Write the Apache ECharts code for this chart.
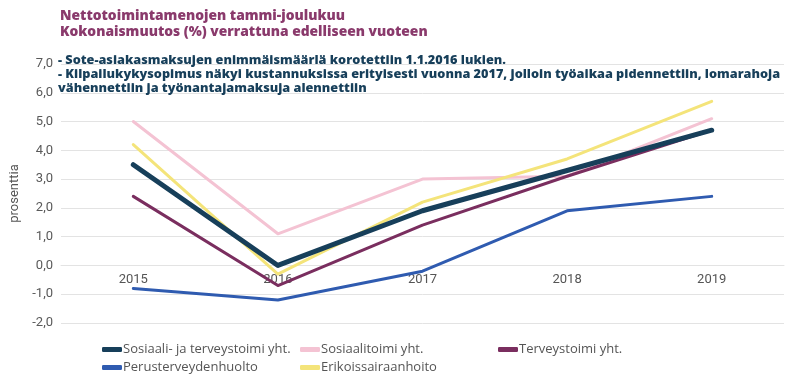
<!DOCTYPE html>
<html><head><meta charset="utf-8">
<script src="https://cdn.jsdelivr.net/npm/echarts@6/dist/echarts.min.js"></script>
<style>html,body{margin:0;padding:0;background:#fff}#c{width:790px;height:381px}</style>
</head><body><div id="c"></div>
<script>
const categories = ['2015','2016','2017','2018','2019'];
const yTicks = [-2,-1,0,1,2,3,4,5,6,7];
const sote = [3.5, 0.0, 1.9, 3.3, 4.7];
const sosiaali = [5.0, 1.1, 3.0, 3.1, 5.1];
const terveys = [2.4, -0.7, 1.4, 3.1, 4.7];
const perus = [-0.8, -1.2, -0.2, 1.9, 2.4];
const erikois = [4.2, -0.3, 2.2, 3.7, 5.7];
const seriesNames = ['Sosiaali- ja terveystoimi yht.','Sosiaalitoimi yht.','Terveystoimi yht.','Perusterveydenhuolto','Erikoissairaanhoito'];
const titleLines = ['Nettotoimintamenojen tammi-joulukuu','Kokonaismuutos (%) verrattuna edelliseen vuoteen'];
const noteLines = ['- Sote-asiakasmaksujen enimmäismäärlä korotettiin 1.1.2016 lukien.','- Kilpailukykysopimus näkyi kustannuksissa erityisesti vuonna 2017, jolloin työaikaa pidennettiin, lomarahoja','vähennettiin ja työnantajamaksuja alennettiin'];

const colors = ['#173f5a','#f4c3d3','#7a2e5f','#2f5bb0','#f4e47a'];
const widths = [5,3,3,3,3];
const dataArr = [sote, sosiaali, terveys, perus, erikois];
const order = [3,1,2,4,0];
const series = order.map(i => ({
  name: seriesNames[i], type:'line', data: dataArr[i], symbol:'none',
  lineStyle:{color:colors[i], width:widths[i], cap:'round', join:'round'},
  itemStyle:{color:colors[i]}, z: i===0?5:3
}));
const legendPos = [[97,338],[295,338],[493,338],[97,356],[295,356]];
const legends = seriesNames.map((n,i)=>({
  data:[n], left:legendPos[i][0], top:legendPos[i][1], icon:'roundRect', itemWidth:20, itemHeight:5, itemGap:0,
  textStyle:{color:'#555', fontSize:13, fontFamily:'Open Sans', padding:[0,0,0,-4]}, selectedMode:false
}));
const chart = echarts.init(document.getElementById('c'));
chart.setOption({
  animation:false,
  title:{text:titleLines.join('\n'), left:55, top:3, textStyle:{color:'#8a3a6c', fontSize:13.8, fontWeight:800, fontFamily:'Open Sans', lineHeight:16}},
  graphic:[{type:'text', left:58, top:53, style:{text:noteLines.join('\n'), fill:'#173f5a', font:'800 12.7px "Open Sans"', lineHeight:14}, z:10}],
  legend: legends,
  grid:{left:55, right:6, top:64, bottom:58},
  xAxis:{type:'category', data:categories, boundaryGap:true, offset:-58,
    axisLine:{show:true, onZero:false, lineStyle:{color:'#e3e3e3'}}, axisTick:{show:false},
    axisLabel:{color:'#555', fontSize:13, fontFamily:'Roboto', margin:8}},
  yAxis:{type:'value', min:yTicks[0], max:yTicks[yTicks.length-1], interval:1,
    name:'prosenttia', nameLocation:'middle', nameGap:40, nameRotate:90,
    nameTextStyle:{color:'#555', fontSize:13, fontFamily:'Roboto'},
    axisLabel:{color:'#595959', fontSize:13, fontFamily:'Roboto', formatter:v=>v.toFixed(1).replace('.',',')},
    splitLine:{lineStyle:{color:'#e3e3e3', width:1}}},
  series: series
});
</script></body></html>
